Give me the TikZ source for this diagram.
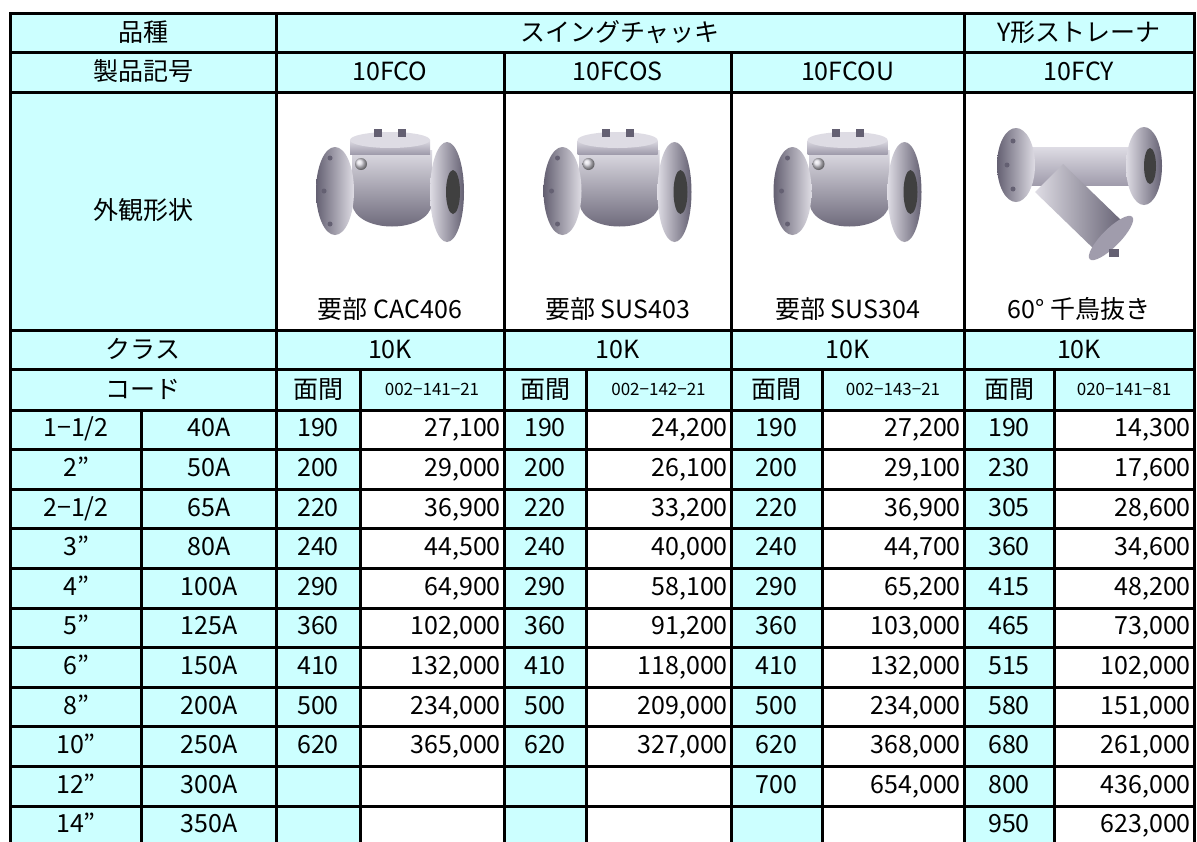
\documentclass[tikz,border=0pt]{standalone}
\usepackage{fontspec}
\setmainfont{Noto Sans CJK JP}
\definecolor{hdrcyan}{RGB}{204,255,255}
\definecolor{castgray}{RGB}{160,156,172}
\definecolor{castdark}{RGB}{100,96,114}
\definecolor{castlight}{RGB}{222,220,228}

\begin{document}
\begin{tikzpicture}[x=1pt, y=-1pt,
    txt/.style={inner sep=0pt, text height=19pt, text depth=2pt, font=\fontsize{25}{29}\selectfont},
    codetxt/.style={inner sep=0pt, text height=13pt, text depth=1.4pt, font=\fontsize{17}{20}\selectfont},
    price/.style={txt, anchor=east},
    grid/.style={line width=3pt, black, line cap=rect},
    checkvalve/.pic={
        \shade[top color=castlight, bottom color=castdark] (-38,-36) -- (42,-36) -- (42,18) .. controls (38,48) and (-34,48) .. (-38,18) -- cycle;
        \shade[top color=castlight, bottom color=castgray] (-40,-46) rectangle (40,-32);
        \fill[castlight] (0,-46) ellipse (40 and 8);
        \fill[castdark] (-16,-57) rectangle (-8,-49);
        \fill[castdark] (8,-57) rectangle (16,-49);
        \shade[ball color=castlight] (-29,-22) circle (6);
        \shade[left color=castdark, right color=castlight] (-55,5) ellipse (19 and 44);
        \fill[castdark] (-60,-28) circle (2.5) (-66,5) circle (2.5) (-60,38) circle (2.5);
        \shade[left color=castlight, right color=castdark] (57,6) ellipse (17 and 50);
        \fill[black!75] (63,6) ellipse (7 and 22);
    },
    ystrainer/.pic={
        \shade[top color=castlight, bottom color=castgray] (-50,-46) rectangle (58,-8);
        \shade[left color=castlight, right color=castdark] (-16,-29) -- (46,31) -- (18,59) -- (-44,-1) -- cycle;
        \fill[castgray] (32,45) ellipse [x radius=30, y radius=9, rotate=45];
        \fill[castdark] (30,56) rectangle (40,64);
        \shade[left color=castdark, right color=castlight] (-63,-28) ellipse (19 and 37);
        \fill[castdark] (-66,-52) circle (2.5) (-72,-28) circle (2.5) (-66,-4) circle (2.5);
        \shade[left color=castlight, right color=castdark] (65,-27) ellipse (18 and 39);
        \fill[black!75] (71,-27) ellipse (6 and 18);
    }
]
    \useasboundingbox (0,0) rectangle (1197,841);

    % Cell fills
    \fill[hdrcyan] (10,13) rectangle (1194,845.6);
    \fill[white] (276,92) rectangle (1194,330);
    \foreach \xa/\xb in {360/504, 586/731, 822/964, 1054/1194}
        \fill[white] (\xa,410) rectangle (\xb,845.6);

    % Grid
    \foreach \y in {13, 52, 92, 330, 369.5}
        \draw[grid] (10,\y) -- (1194,\y);
    \foreach \k in {0,...,11}
        \draw[grid] (10,410+39.6*\k) -- (1194,410+39.6*\k);
    \foreach \x in {10, 276, 964, 1194}
        \draw[grid] (\x,13) -- (\x,845.6);
    \foreach \x in {504, 731}
        \draw[grid] (\x,52) -- (\x,845.6);
    \foreach \x in {360, 586, 822, 1054}
        \draw[grid] (\x,369.5) -- (\x,845.6);
    \draw[grid] (141.7,410) -- (141.7,845.6);

    % Header rows
    \node[txt] (kind) at (143,32.5) {品種};
    \node[txt] (swing) at (620,32.5) {スイングチャッキ};
    \node[txt] (ystr) at (1079,32.5) {Y形ストレーナ};
    \node[txt] (model) at (143,72) {製品記号};
    \node[txt] (fco) at (390,72) {10FCO};
    \node[txt] (fcos) at (617.5,72) {10FCOS};
    \node[txt] (fcou) at (847.5,72) {10FCOU};
    \node[txt] (fcy) at (1079,72) {10FCY};

    % Photos
    \node[txt] (look) at (143,211) {外観形状};
    \pic (valveA) at (390,186) {checkvalve};
    \pic (valveB) at (617.5,186) {checkvalve};
    \pic (valveC) at (847.5,186) {checkvalve};
    \pic (strainer) at (1079,193) {ystrainer};
    \node[txt] (matA) at (390,310) {要部 CAC406};
    \node[txt] (matB) at (617.5,310) {要部 SUS403};
    \node[txt] (matC) at (847.5,310) {要部 SUS304};
    \node[txt] (angle) at (1079,310) {60°\ 千鳥抜き};

    % Class and code
    \node[txt] (cls) at (143,350) {クラス};
    \foreach \x/\n in {390/A, 617.5/B, 847.5/C, 1079/D}
        \node[txt] (cls\n) at (\x,350) {10K};
    \node[txt] (code) at (143,390) {コード};
    \foreach \x/\n in {318/A, 545/B, 776.5/C, 1009/D}
        \node[txt] (len\n) at (\x,390) {面間};
    \node[codetxt] (codeA) at (432,390) {002−141−21};
    \node[codetxt] (codeB) at (658.5,390) {002−142−21};
    \node[codetxt] (codeC) at (893,390) {002−143−21};
    \node[codetxt] (codeD) at (1124,390) {020−141−81};

    % Data rows
    \foreach \r/\inch/\mm/\la/\pa/\lb/\pb/\lc/\pc/\ld/\pd [evaluate=\r as \yc using 410+39.6*(\r-0.5)-1.5] in {
        1/{1−1/2}/40A/190/{27,100}/190/{24,200}/190/{27,200}/190/{14,300},
        2/{2”}/50A/200/{29,000}/200/{26,100}/200/{29,100}/230/{17,600},
        3/{2−1/2}/65A/220/{36,900}/220/{33,200}/220/{36,900}/305/{28,600},
        4/{3”}/80A/240/{44,500}/240/{40,000}/240/{44,700}/360/{34,600},
        5/{4”}/100A/290/{64,900}/290/{58,100}/290/{65,200}/415/{48,200},
        6/{5”}/125A/360/{102,000}/360/{91,200}/360/{103,000}/465/{73,000},
        7/{6”}/150A/410/{132,000}/410/{118,000}/410/{132,000}/515/{102,000},
        8/{8”}/200A/500/{234,000}/500/{209,000}/500/{234,000}/580/{151,000},
        9/{10”}/250A/620/{365,000}/620/{327,000}/620/{368,000}/680/{261,000},
        10/{12”}/300A/{}/{}/{}/{}/700/{654,000}/800/{436,000},
        11/{14”}/350A/{}/{}/{}/{}/{}/{}/950/{623,000}} {
        \node[txt] (inch\r) at (76,\yc) {\inch};
        \node[txt] (mm\r) at (209,\yc) {\mm};
        \node[txt] (lenA\r) at (318,\yc) {\la};
        \node[price] (priceA\r) at (501,\yc) {\pa};
        \node[txt] (lenB\r) at (545,\yc) {\lb};
        \node[price] (priceB\r) at (728,\yc) {\pb};
        \node[txt] (lenC\r) at (776.5,\yc) {\lc};
        \node[price] (priceC\r) at (961,\yc) {\pc};
        \node[txt] (lenD\r) at (1009,\yc) {\ld};
        \node[price] (priceD\r) at (1191,\yc) {\pd};
    }
\end{tikzpicture}
\end{document}
